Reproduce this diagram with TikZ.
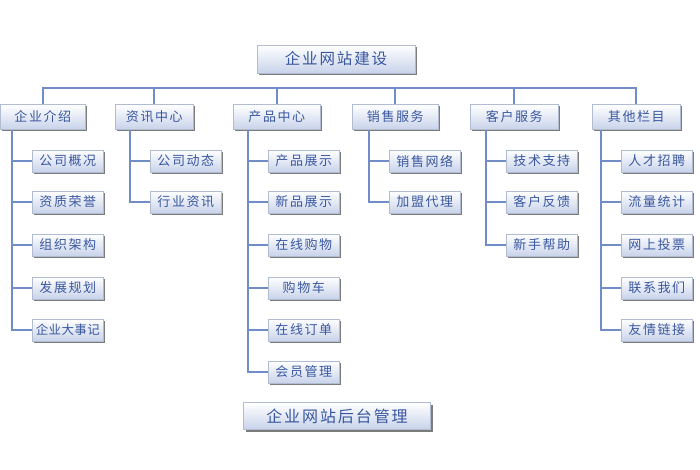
\documentclass[tikz,border=0pt]{standalone}
\usepackage{tikz}
\usetikzlibrary{shadows}
\usepackage{xcolor}
\usepackage{fontspec}
\newfontfamily\cjk[LetterSpace=12]{Noto Sans CJK SC}
\newfontfamily\cjktight[LetterSpace=3]{Noto Sans CJK SC}
\definecolor{linkc}{RGB}{112,141,200}
\definecolor{txtc}{RGB}{58,88,160}
\definecolor{boxline}{RGB}{178,188,208}
\definecolor{boxlow}{RGB}{200,211,234}

\begin{document}
\begin{tikzpicture}[x=1pt,y=-1pt,
    box/.style={draw=boxline, line width=.6pt, top color=white, bottom color=boxlow,
        text=txtc, inner sep=0pt, font=\cjk,
        drop shadow={shadow xshift=2pt, shadow yshift=-2pt, fill=black!60, opacity=.85}},
    head/.style={box, minimum width=158pt, minimum height=28pt, font=\cjk\fontsize{15.5}{16}\selectfont},
    cat/.style={box, anchor=west, minimum width=86pt, minimum height=25pt, font=\cjk\fontsize{13}{14}\selectfont},
    item/.style={box, anchor=west, minimum width=71pt, minimum height=22pt, font=\cjk\fontsize{13}{14}\selectfont},
    link/.style={linkc, line width=1.8pt}]
    \useasboundingbox[fill=white] (0,0) rectangle (700,470);

    \node[head] (top) at (336,59) {企业网站建设};
    \node[head, minimum width=187pt, minimum height=27pt,
        font=\cjk\fontsize{16}{17}\selectfont] (back) at (337,416) {企业网站后台管理};

    \node[cat, minimum width=85pt] (c1) at (0,117) {企业介绍};
    \node[cat, minimum width=78pt] (c2) at (115,117) {资讯中心};
    \node[cat, minimum width=87pt] (c3) at (233,117) {产品中心};
    \node[cat] (c4) at (352,117) {销售服务};
    \node[cat, minimum width=88pt] (c5) at (470,117) {客户服务};
    \node[cat, minimum width=88pt] (c6) at (592,117) {其他栏目};

    \coordinate (bar) at (336,88);
    \draw[link] (c1.north) -- (c1.north |- bar) -- (c6.north |- bar) -- (c6.north);
    \draw[link] (c2.north) -- (c2.north |- bar);
    \draw[link] (c3.north) -- (c3.north |- bar);
    \draw[link] (c4.north) -- (c4.north |- bar);
    \draw[link] (c5.north) -- (c5.north |- bar);

    \node[item] (c1-1) at (32,161) {公司概况};
    \node[item] (c1-2) at (32,202) {资质荣誉};
    \node[item] (c1-3) at (32,245) {组织架构};
    \node[item] (c1-4) at (32,288) {发展规划};
    \node[item, font=\cjktight\fontsize{12.5}{13}\selectfont] (c1-5) at (32,330) {企业大事记};

    \node[item] (c2-1) at (150,161) {公司动态};
    \node[item] (c2-2) at (150,202) {行业资讯};

    \node[item] (c3-1) at (268,161) {产品展示};
    \node[item] (c3-2) at (268,202) {新品展示};
    \node[item] (c3-3) at (268,245) {在线购物};
    \node[item] (c3-4) at (268,288) {购物车};
    \node[item] (c3-5) at (268,330) {在线订单};
    \node[item] (c3-6) at (268,372) {会员管理};

    \node[item] (c4-1) at (389,161) {销售网络};
    \node[item] (c4-2) at (389,202) {加盟代理};

    \node[item] (c5-1) at (506,161) {技术支持};
    \node[item] (c5-2) at (506,202) {客户反馈};
    \node[item] (c5-3) at (506,245) {新手帮助};

    \node[item] (c6-1) at (621,161) {人才招聘};
    \node[item] (c6-2) at (621,202) {流量统计};
    \node[item] (c6-3) at (621,245) {网上投票};
    \node[item] (c6-4) at (621,288) {联系我们};
    \node[item] (c6-5) at (621,330) {友情链接};

    \draw[link] (c1-1.west) -| ([xshift=12pt]c1.south west);
    \draw[link] (c1-2.west) -| ([xshift=12pt]c1.south west);
    \draw[link] (c1-3.west) -| ([xshift=12pt]c1.south west);
    \draw[link] (c1-4.west) -| ([xshift=12pt]c1.south west);
    \draw[link] (c1-5.west) -| ([xshift=12pt]c1.south west);

    \draw[link] (c2-1.west) -| ([xshift=15pt]c2.south west);
    \draw[link] (c2-2.west) -| ([xshift=15pt]c2.south west);

    \draw[link] (c3-1.west) -| ([xshift=15pt]c3.south west);
    \draw[link] (c3-2.west) -| ([xshift=15pt]c3.south west);
    \draw[link] (c3-3.west) -| ([xshift=15pt]c3.south west);
    \draw[link] (c3-4.west) -| ([xshift=15pt]c3.south west);
    \draw[link] (c3-5.west) -| ([xshift=15pt]c3.south west);
    \draw[link] (c3-6.west) -| ([xshift=15pt]c3.south west);

    \draw[link] (c4-1.west) -| ([xshift=17pt]c4.south west);
    \draw[link] (c4-2.west) -| ([xshift=17pt]c4.south west);

    \draw[link] (c5-1.west) -| ([xshift=16pt]c5.south west);
    \draw[link] (c5-2.west) -| ([xshift=16pt]c5.south west);
    \draw[link] (c5-3.west) -| ([xshift=16pt]c5.south west);

    \draw[link] (c6-1.west) -| ([xshift=9pt]c6.south west);
    \draw[link] (c6-2.west) -| ([xshift=9pt]c6.south west);
    \draw[link] (c6-3.west) -| ([xshift=9pt]c6.south west);
    \draw[link] (c6-4.west) -| ([xshift=9pt]c6.south west);
    \draw[link] (c6-5.west) -| ([xshift=9pt]c6.south west);

\end{tikzpicture}
\end{document}
